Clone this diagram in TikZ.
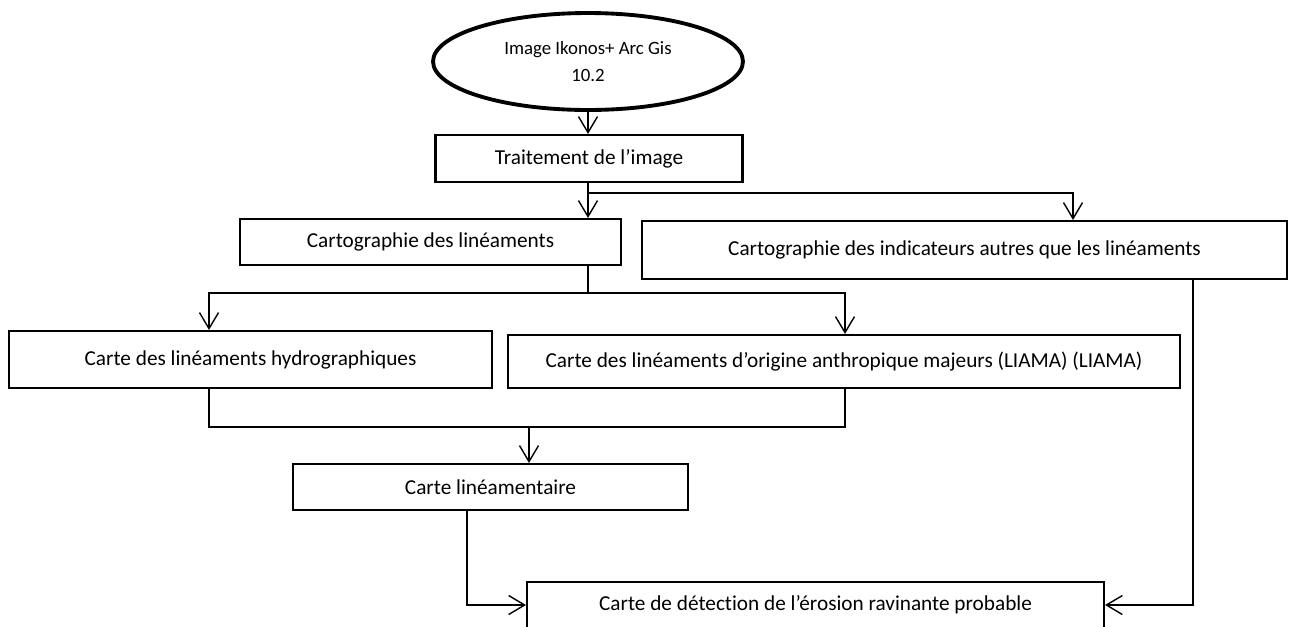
\documentclass[tikz,border=0pt]{standalone}
\usepackage{fontspec}
\setmainfont{Carlito}[Ligatures=NoCommon]
\usetikzlibrary{arrows.meta,shapes.geometric}
\tikzset{
  box/.style={draw, line width=1.2pt, inner sep=2pt, font=\fontsize{12.1}{14}\selectfont},
  src/.style={draw, ellipse, line width=2.2pt, align=center, font=\fontsize{10.7}{15}\selectfont},
  link/.style={line width=0.8pt},
  >={Straight Barb[length=3.2mm,width=3.8mm]}
}
\begin{document}
\begin{tikzpicture}[x=0.02cm,y=-0.02cm]
  \useasboundingbox (0,0) rectangle (1290,626);
  % boxes
  \node[src, minimum width=6.2cm, minimum height=1.94cm] (ikonos) at (588,61.5) {Image Ikonos+ Arc Gis\\10.2};
  \node[box, minimum width=6.14cm, minimum height=0.94cm] (trait) at (589,158.5) {Traitement de l’image};
  \node[box, minimum width=7.62cm, minimum height=0.92cm] (carto) at (430.5,242) {Cartographie des linéaments};
  \node[box, minimum width=12.9cm, minimum height=1.16cm] (indic) at (964.5,250) {Cartographie des indicateurs autres que les linéaments};
  \node[box, minimum width=9.66cm, minimum height=1.14cm] (hydro) at (250.5,359.5) {Carte des linéaments hydrographiques};
  \node[box, minimum width=13.44cm, minimum height=1.06cm] (liama) at (844,361.5) {Carte des linéaments d’origine anthropique majeurs (LIAMA) (LIAMA)};
  \node[box, minimum width=7.9cm, minimum height=0.92cm] (linea) at (490.5,487) {Carte linéamentaire};
  \node[box, minimum width=11.54cm, minimum height=0.92cm] (detec) at (815.5,605) {Carte de détection de l’érosion ravinante probable};
  % corners
  \coordinate (c1) at (1073,193);
  \coordinate (c2) at (209,293);
  \coordinate (c3) at (845,293);
  \coordinate (c4) at (529,427);
  \coordinate (c5) at (467,605);
  \coordinate (c6) at (1193,605);
  % links
  \draw[link,->] (ikonos.south -| ikonos) -- (trait.north -| ikonos);
  \draw[link,->] (trait.south -| ikonos) -- (carto.north -| ikonos);
  \draw[link,->] (trait.south -| ikonos) |- (c1) -- (indic.north -| c1);
  \draw[link,->] (carto.south -| ikonos) |- (c2) -- (hydro.north -| c2);
  \draw[link,->] (carto.south -| ikonos) |- (c3) -- (liama.north -| c3);
  \draw[link] (hydro.south -| c2) -- (c2 |- c4) -- (c3 |- c4) -- (liama.south -| c3);
  \draw[link,->] (c4) -- (linea.north -| c4);
  \draw[link,->] (linea.south -| c5) |- (detec.west);
  \draw[link,->] (indic.south -| c6) |- (detec.east);
\end{tikzpicture}
\end{document}
